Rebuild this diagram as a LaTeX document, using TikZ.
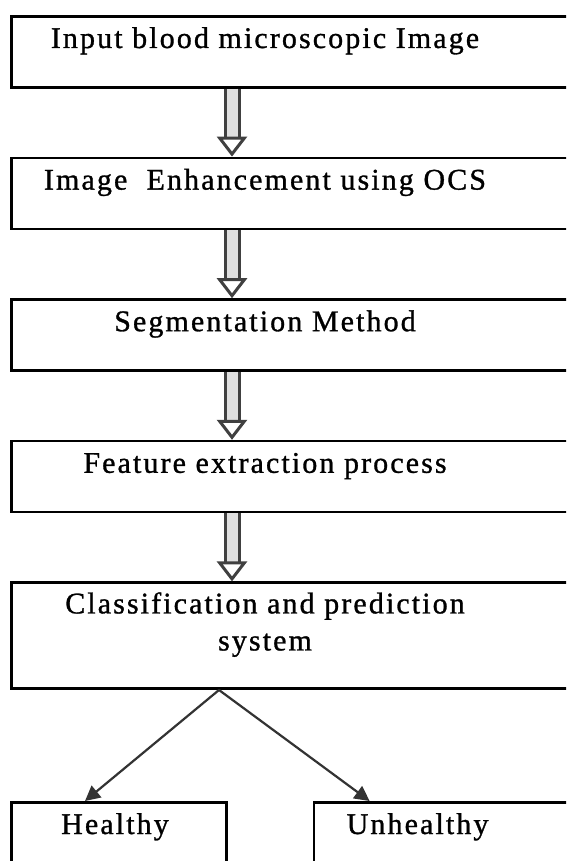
\documentclass[tikz,border=0pt]{standalone}
\usepackage{fontspec}
\newfontfamily\flowfont{Liberation Serif}[LetterSpace=7, FakeBold=1]
\usetikzlibrary{arrows.meta, positioning}

\begin{document}
\begin{tikzpicture}[
    x=1pt, y=1pt,
    node distance=68pt and 85pt,
    box/.style={rectangle, draw=black, line width=2.6pt, fill=white,
                minimum height=71pt, minimum width=640pt, inner sep=0pt},
    leaf/.style={box, minimum height=110pt, minimum width=215pt},
    txt/.style={font=\flowfont\fontsize{30}{37}\selectfont, align=center,
                anchor=base, inner sep=0pt},
    hollow/.style={draw=black!75, line width=3pt, double=black!12,
                   double distance=11pt,
                   -{Triangle[open, fill=white, length=20pt, width=30pt]}},
    arrow/.style={draw=black!80, line width=2.2pt,
                  -{Triangle[length=15pt, width=15pt]}}
]
\path[use as bounding box, fill=white] (0,0) rectangle (566,-861);
\clip (0,0) rectangle (566,-861);

% main chain
\node[box, anchor=north west] (b_input) at (10,-15) {};
\node[box, below=of b_input] (b_enh) {};
\node[box, below=of b_enh] (b_seg) {};
\node[box, below=of b_seg] (b_feat) {};
\node[box, below=of b_feat, minimum height=106pt] (b_class) {};

\node[txt] (t_input) at ([xshift=255pt, yshift=-33pt]b_input.north west) {Input blood microscopic Image};
\node[txt] (t_enh) at ([xshift=255pt, yshift=-33pt]b_enh.north west) {Image~~Enhancement using OCS};
\node[txt] (t_seg) at ([xshift=255pt, yshift=-33pt]b_seg.north west) {Segmentation Method};
\node[txt] (t_feat) at ([xshift=255pt, yshift=-33pt]b_feat.north west) {Feature extraction process};
\node[txt] (t_class) at ([xshift=255pt, yshift=-69pt]b_class.north west) {Classification and prediction\\system};

\draw[hollow] ([xshift=222pt]b_input.south west) -- ([xshift=222pt]b_enh.north west);
\draw[hollow] ([xshift=222pt]b_enh.south west) -- ([xshift=222pt]b_seg.north west);
\draw[hollow] ([xshift=222pt]b_seg.south west) -- ([xshift=222pt]b_feat.north west);
\draw[hollow] ([xshift=222pt]b_feat.south west) -- ([xshift=222pt]b_class.north west);

% outcome
\node[leaf, below right=111pt and 0pt of b_class.south west] (b_healthy) {};
\node[leaf, right=of b_healthy, minimum width=300pt] (b_unhealthy) {};

\node[txt] (t_healthy) at ([xshift=105pt, yshift=-33pt]b_healthy.north west) {Healthy};
\node[txt] (t_unhealthy) at ([xshift=105pt, yshift=-33pt]b_unhealthy.north west) {Unhealthy};

\draw[arrow] ([xshift=209pt]b_class.south west) -- ([xshift=75pt]b_healthy.north west);
\draw[arrow] ([xshift=209pt]b_class.south west) -- ([xshift=57pt]b_unhealthy.north west);

\end{tikzpicture}
\end{document}
